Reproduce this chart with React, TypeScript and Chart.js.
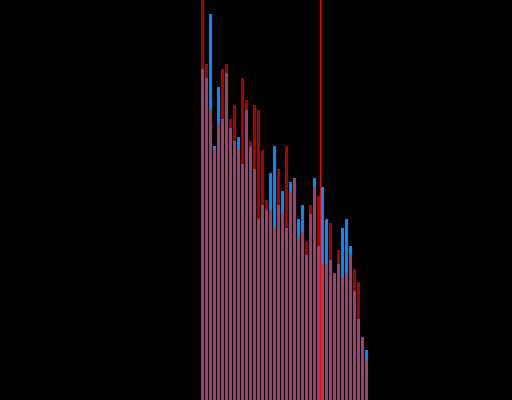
import React, { useEffect, useRef } from "react";
import { Chart, registerables } from "chart.js";

Chart.register(...registerables);

// Bin indices (histogram bins)
const bins: number[] = Array.from({ length: 42 }, (_, i) => i);

// Blue series (counts per bin)
const blueValues: number[] = [
  331, 322, 386, 254, 313, 281, 327, 272, 259, 263, 236, 290, 254, 231, 181, 195, 190, 227, 254, 195, 209,
  172, 218, 222, 181, 195, 145, 186, 222, 154, 213, 181, 140, 127, 136, 172, 181, 154, 109, 81, 63, 50,
];

// Red series (counts per bin)
const redValues: number[] = [
  400, 336, 290, 250, 277, 331, 336, 281, 295, 250, 322, 300, 259, 295, 290, 250, 200, 190, 172, 231, 186,
  254, 209, 222, 163, 168, 159, 195, 213, 204, 136, 136, 177, 127, 150, 122, 127, 145, 131, 118, 63, 40,
];

// Marker position (in bin units)
const markerX = 29.5;

const X_MIN = -50.625;
const X_MAX = 77.375;
const Y_MAX = 400;

export default function App() {
  const ref = useRef<HTMLCanvasElement | null>(null);

  useEffect(() => {
    document.body.style.margin = "0";
    document.body.style.background = "#000";
    const canvas = ref.current;
    if (!canvas) return;
    const bgPlugin = {
      id: "bg",
      beforeDraw(chart: any) {
        const ctx = chart.ctx;
        ctx.save();
        ctx.fillStyle = "#000";
        ctx.fillRect(0, 0, chart.width, chart.height);
        ctx.restore();
      },
    };
    const barCommon = { grouped: false, barPercentage: 0.75, categoryPercentage: 1 };
    const chart = new Chart(canvas, {
      type: "bar",
      data: {
        datasets: [
          {
            type: "line",
            data: [
              { x: markerX, y: 0 },
              { x: markerX, y: Y_MAX },
            ],
            borderColor: "#ff0000",
            borderWidth: 1,
            pointRadius: 0,
            fill: false,
          } as any,
          {
            // overlap of both series
            data: bins.map((b, i) => ({ x: b, y: Math.min(redValues[i], blueValues[i]) })),
            backgroundColor: "rgb(160,62,110)",
            ...barCommon,
          } as any,
          {
            data: bins.map((b, i) => ({ x: b, y: redValues[i] })),
            backgroundColor: "rgb(170,0,0)",
            ...barCommon,
          } as any,
          {
            data: bins.map((b, i) => ({ x: b, y: blueValues[i] })),
            backgroundColor: "rgb(0,138,255)",
            ...barCommon,
          } as any,
        ],
      },
      options: {
        responsive: false,
        animation: false,
        devicePixelRatio: 1,
        layout: { padding: 0 },
        plugins: { legend: { display: false }, tooltip: { enabled: false } },
        scales: {
          x: { type: "linear", min: X_MIN, max: X_MAX, display: false, offset: false },
          y: { type: "linear", min: 0, max: Y_MAX, display: false },
        },
      },
      plugins: [bgPlugin],
    });
    return () => chart.destroy();
  }, []);

  return (
    <div style={{ width: 512, height: 400, background: "#000" }}>
      <canvas ref={ref} width={512} height={400} style={{ display: "block" }} />
    </div>
  );
}
